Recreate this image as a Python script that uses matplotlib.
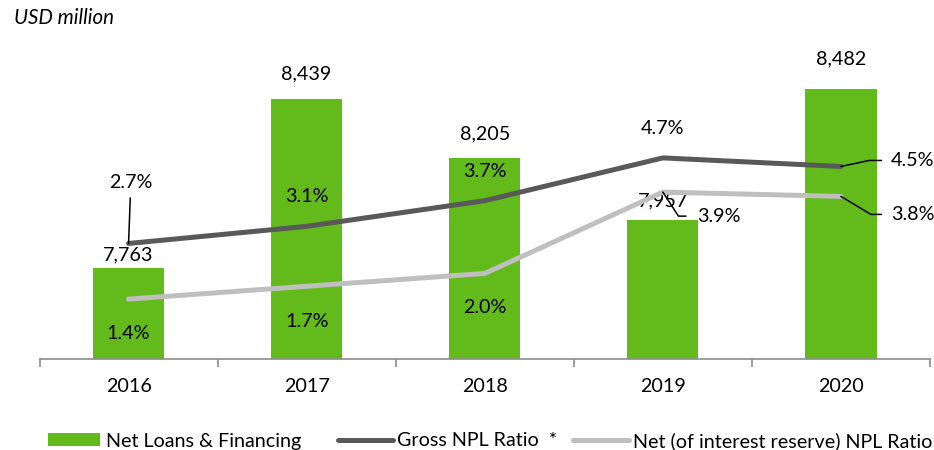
import matplotlib
matplotlib.use("Agg")
import matplotlib.pyplot as plt
import numpy as np

plt.rcParams['font.family'] = ['Lato', 'DejaVu Sans']

years = ['2016', '2017', '2018', '2019', '2020']
net_loans = [7763, 8439, 8205, 7957, 8482]
gross_npl = [2.7, 3.1, 3.7, 4.7, 4.5]
net_npl = [1.4, 1.7, 2.0, 3.9, 3.8]

BAR = '#62BB1A'
GROSS = '#595959'
NET = '#BFBFBF'
FS = 14.2

W, H = 934, 450
fig = plt.figure(figsize=(W / 100, H / 100), dpi=100)
ax = fig.add_axes([39.5 / W, 1 - 359 / H, (930 - 39.5) / W, 350 / H])
ax2 = ax.twinx()

x = np.arange(len(years))
bars = ax.bar(x, net_loans, width=0.4, color=BAR, zorder=2)
ax.set_xlim(-0.5, len(years) - 0.5)
ax.set_ylim(7400, 8800)
ax2.set_ylim(0, 8.18)

lg, = ax2.plot(x, gross_npl, color=GROSS, lw=3.6, solid_capstyle='round', solid_joinstyle='round')
ln, = ax2.plot(x, net_npl, color=NET, lw=3.6, solid_capstyle='round', solid_joinstyle='round')

for a in (ax, ax2):
    for s in ('top', 'right', 'left'):
        a.spines[s].set_visible(False)
    a.set_yticks([])
ax2.spines['bottom'].set_visible(False)
ax.spines['bottom'].set_color('#8C8C8C')
ax.spines['bottom'].set_linewidth(1.2)

ax.set_xticks(x)
ax.set_xticklabels(years, fontsize=FS)
ax.tick_params(axis='x', which='major', length=0, pad=13.5)
ax.set_xticks(np.arange(-0.5, len(years), 1.0), minor=True)
ax.tick_params(axis='x', which='minor', length=6, width=1.2, color='#8C8C8C')

# bar value labels (offsets in pixels above bar tops)
bar_off = [13, 25, 24, 19, 30]
for i, v in enumerate(net_loans):
    ax.annotate(f'{v:,}', xy=(i, v), xytext=(0, bar_off[i]), textcoords='offset pixels',
                ha='center', va='center', fontsize=FS, color='black', zorder=5)

lead = dict(arrowstyle='-', color='black', lw=1.1, shrinkB=0)

# gross NPL labels
g_off = [(2, 61), (0, 30), (0, 29), (0, 29), (72, 6)]
for i, v in enumerate(gross_npl):
    kw = {}
    if i == 0:
        kw['arrowprops'] = dict(lead, relpos=(0.5, 0), shrinkA=3)
    elif i == 4:
        kw['arrowprops'] = dict(lead, relpos=(0, 0.5), shrinkA=5,
                                connectionstyle='angle,angleA=0,angleB=12,rad=0')
    ax2.annotate(f'{v:.1f}%', xy=(i, v), xytext=g_off[i], textcoords='offset pixels',
                 ha='center', va='center', fontsize=FS, color='black', **kw)

# net NPL labels
n_off = [(0, -34), (0, -35), (0, -34), (56, -24), (72, -18)]
for i, v in enumerate(net_npl):
    kw = {}
    if i == 3:
        kw['arrowprops'] = dict(lead, relpos=(0, 0.5), shrinkA=6,
                                connectionstyle='angle,angleA=0,angleB=-57,rad=0')
    elif i == 4:
        kw['arrowprops'] = dict(lead, relpos=(0, 0.5), shrinkA=5,
                                connectionstyle='angle,angleA=0,angleB=-31,rad=0')
    ax2.annotate(f'{v:.1f}%', xy=(i, v), xytext=n_off[i], textcoords='offset pixels',
                 ha='center', va='center', fontsize=FS, color='black', **kw)

fig.text(14 / W, 1 - 18 / H, 'USD million', fontsize=14.8, style='italic', va='center', ha='left')

ly = 1 - 441 / H
em = FS * 100 / 72
common = dict(loc='center left', frameon=False, borderpad=0, borderaxespad=0, fontsize=FS)
fig.legend([bars], ['Net Loans & Financing'], bbox_to_anchor=(48 / W, ly),
           handlelength=52 / em, handleheight=12 / em, handletextpad=6 / em, **common)
fig.legend([lg], ['Gross NPL Ratio  *'], bbox_to_anchor=(338 / W, ly),
           handlelength=55 / em, handletextpad=4 / em, **common)
fig.legend([ln], ['Net (of interest reserve) NPL Ratio'], bbox_to_anchor=(573 / W, ly),
           handlelength=56 / em, handletextpad=4 / em, **common)

fig.savefig('out.png', dpi=100)
